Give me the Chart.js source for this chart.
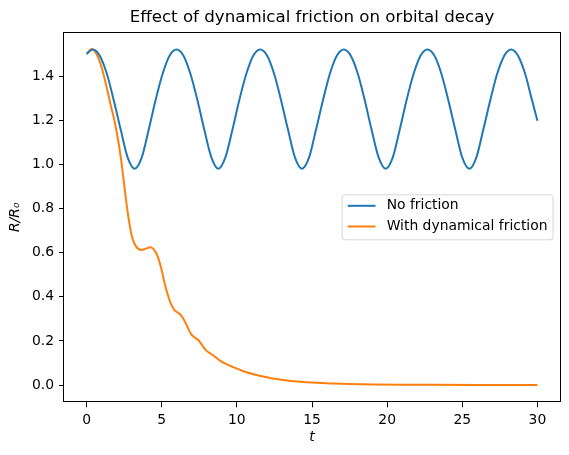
<!DOCTYPE html>
<html>
<head>
<meta charset="utf-8">
<script src="https://cdn.jsdelivr.net/npm/chart.js@4.4.1/dist/chart.umd.min.js"></script>
<style>
  html, body { margin: 0; padding: 0; background: #fff; }
  #wrap { width: 569px; height: 455px; }
</style>
</head>
<body>
<div id="wrap"><canvas id="orbit"></canvas></div>
<script>
'use strict';

// ticks
const xTicks = [0, 5, 10, 15, 20, 25, 30];
const yTicks = [0.0, 0.2, 0.4, 0.6, 0.8, 1.0, 1.2, 1.4];

// no friction : R/R0 vs t
const freeT = [0, 0.42, 0.88, 1.35, 1.81, 2.28, 2.74, 3.20, 3.67, 4.13, 4.59, 5.06, 5.52,
  5.99, 6.45, 6.91, 7.38, 7.84, 8.31, 8.77, 9.23, 9.70, 10.16, 10.63, 11.09,
  11.55, 12.02, 12.48, 12.94, 13.41, 13.87, 14.33, 14.80, 15.26, 15.73, 16.19, 16.65,
  17.12, 17.58, 18.05, 18.51, 18.97, 19.44, 19.90, 20.37, 20.83, 21.29, 21.76, 22.22,
  22.68, 23.15, 23.61, 24.07, 24.54, 25.00, 25.47, 25.93, 26.39, 26.86, 27.32, 27.79,
  28.25, 28.71, 29.18, 29.64, 30.00];
const freeR = [1.50, 1.52, 1.492, 1.41, 1.29, 1.155, 1.03, 0.98, 1.03, 1.155, 1.29, 1.41, 1.492,
  1.52, 1.492, 1.41, 1.29, 1.155, 1.03, 0.98, 1.03, 1.155, 1.29, 1.41, 1.492,
  1.52, 1.492, 1.41, 1.29, 1.155, 1.03, 0.98, 1.03, 1.155, 1.29, 1.41, 1.492,
  1.52, 1.492, 1.41, 1.29, 1.155, 1.03, 0.98, 1.03, 1.155, 1.29, 1.41, 1.492,
  1.52, 1.492, 1.41, 1.29, 1.155, 1.03, 0.98, 1.03, 1.155, 1.29, 1.41, 1.492,
  1.52, 1.492, 1.41, 1.29, 1.197];

// with dynamical friction
const dfT = [0, 0.33, 0.7, 1.0, 1.3, 1.6, 1.85, 2.1, 2.3, 2.5, 2.7, 2.88, 3.05, 3.3, 3.65,
  3.95, 4.25, 4.5, 4.75, 5.0, 5.2, 5.4, 5.6, 5.85, 6.15, 6.4, 6.7, 6.95, 7.2, 7.45,
  7.7, 7.95, 8.25, 8.55, 8.9, 9.3, 9.8, 10.4, 11.0, 11.6, 12.3, 13.1, 14.0, 15.3,
  16.5, 17.5, 19.0, 21.0, 23.0, 26.0, 30.0];
const dfR = [1.50, 1.522, 1.495, 1.44, 1.36, 1.27, 1.20, 1.11, 1.02, 0.91, 0.80, 0.72, 0.665, 0.627, 0.612,
  0.618, 0.624, 0.612, 0.58, 0.52, 0.46, 0.41, 0.37, 0.34, 0.325, 0.305, 0.265, 0.232, 0.215, 0.203,
  0.18, 0.157, 0.143, 0.128, 0.11, 0.095, 0.08, 0.064, 0.051, 0.041, 0.031, 0.023, 0.016, 0.010,
  0.007, 0.005, 0.003, 0.0015, 0.001, 0.0005, 0.0003];

const seriesNames = ['No friction', 'With dynamical friction'];
const seriesColors = ['#1f77b4', '#ff7f0e'];

const FONT = 'DejaVu Sans';
const FS = 13.9;

Chart.defaults.font.family = FONT;
Chart.defaults.font.size = FS;
Chart.defaults.color = '#000';

function toPoints(ts, rs) {
    return ts.map((t, i) => ({ x: t, y: rs[i] }));
}

// box around the axes, like matplotlib spines
const spines = {
    id: 'spines',
    afterDatasetsDraw(chart) {
        const { ctx, chartArea: a } = chart;
        ctx.save();
        ctx.strokeStyle = '#000';
        ctx.lineWidth = 1;
        ctx.strokeRect(Math.round(a.left) - 0.5, Math.round(a.top) + 0.5,
            Math.round(a.right - a.left) + 1, Math.round(a.bottom - a.top) - 1);
        ctx.restore();
    }
};

// legend inside the axes, centre right
const boxLegend = {
    id: 'boxLegend',
    afterDraw(chart) {
        const { ctx, chartArea: a } = chart;
        ctx.save();
        ctx.font = FS + 'px "' + FONT + '"';
        const sets = chart.data.datasets;
        const textW = Math.max(...sets.map(d => ctx.measureText(d.label).width));
        const pad = 0.4 * FS, handle = 2 * FS, gap = 0.8 * FS;
        const w = pad + handle + gap + textW + pad;
        const h = 45;
        const x = a.right - 0.5 * FS - w;
        const y = (a.top + a.bottom) / 2 - h / 2;

        ctx.beginPath();
        ctx.roundRect(x, y, w, h, 3);
        ctx.fillStyle = 'rgba(255,255,255,0.8)';
        ctx.fill();
        ctx.strokeStyle = 'rgba(204,204,204,0.8)';
        ctx.lineWidth = 1;
        ctx.stroke();

        const rowGap = 20.7;
        sets.forEach((d, i) => {
            const ry = y + 11 + i * rowGap;
            ctx.beginPath();
            ctx.moveTo(x + pad, ry);
            ctx.lineTo(x + pad + handle, ry);
            ctx.strokeStyle = d.borderColor;
            ctx.lineWidth = 2;
            ctx.stroke();
            ctx.fillStyle = '#000';
            ctx.textBaseline = 'middle';
            ctx.fillText(d.label, x + pad + handle + gap, ry);
        });
        ctx.restore();
    }
};

const data = {
    datasets: [
        {
            label: seriesNames[0],
            data: toPoints(freeT, freeR),
            borderColor: seriesColors[0],
            backgroundColor: seriesColors[0],
            borderWidth: 2,
            pointRadius: 0,
            cubicInterpolationMode: 'monotone'
        },
        {
            label: seriesNames[1],
            data: toPoints(dfT, dfR),
            borderColor: seriesColors[1],
            backgroundColor: seriesColors[1],
            borderWidth: 2,
            pointRadius: 0,
            cubicInterpolationMode: 'monotone'
        }
    ]
};

const config = {
    type: 'line',
    data,
    options: {
        responsive: true,
        maintainAspectRatio: false,
        animation: false,
        events: [],
        layout: { padding: { left: 0, right: 9, top: 0, bottom: 0 } },
        plugins: {
            legend: { display: false },
            tooltip: { enabled: false },
            title: {
                display: true,
                fullSize: false,
                text: 'Effect of dynamical friction on orbital decay',
                font: { family: FONT, size: 16.67, weight: 'normal' },
                color: '#000',
                padding: { top: 8, bottom: 4.3 }
            }
        },
        scales: {
            x: {
                type: 'linear',
                min: -1.5,
                max: 31.5,
                afterBuildTicks: s => { s.ticks = xTicks.map(v => ({ value: v })); },
                afterFit: s => { s.height = 52.7; },
                ticks: { autoSkip: false, maxRotation: 0, padding: 5, callback: v => String(v) },
                grid: { drawOnChartArea: false, drawTicks: true, tickLength: 5, color: '#000', lineWidth: 1 },
                border: { display: false },
                title: {
                    display: true,
                    text: 't',
                    font: { family: FONT, size: FS, style: 'italic' },
                    padding: { top: 0, bottom: 9.7 }
                }
            },
            y: {
                type: 'linear',
                min: -0.078,
                max: 1.598,
                afterBuildTicks: s => { s.ticks = yTicks.map(v => ({ value: v })); },
                afterFit: s => { s.width = 64; },
                ticks: { autoSkip: false, padding: 5, callback: v => v.toFixed(1) },
                grid: { drawOnChartArea: false, drawTicks: true, tickLength: 5, color: '#000', lineWidth: 1 },
                border: { display: false },
                title: {
                    display: true,
                    text: 'R/R₀',
                    font: { family: FONT, size: FS, style: 'italic' },
                    padding: { top: 6.9, bottom: 0 }
                }
            }
        }
    },
    plugins: [spines, boxLegend]
};

const orbitChart = new Chart(document.getElementById('orbit'), config);
</script>
</body>
</html>
